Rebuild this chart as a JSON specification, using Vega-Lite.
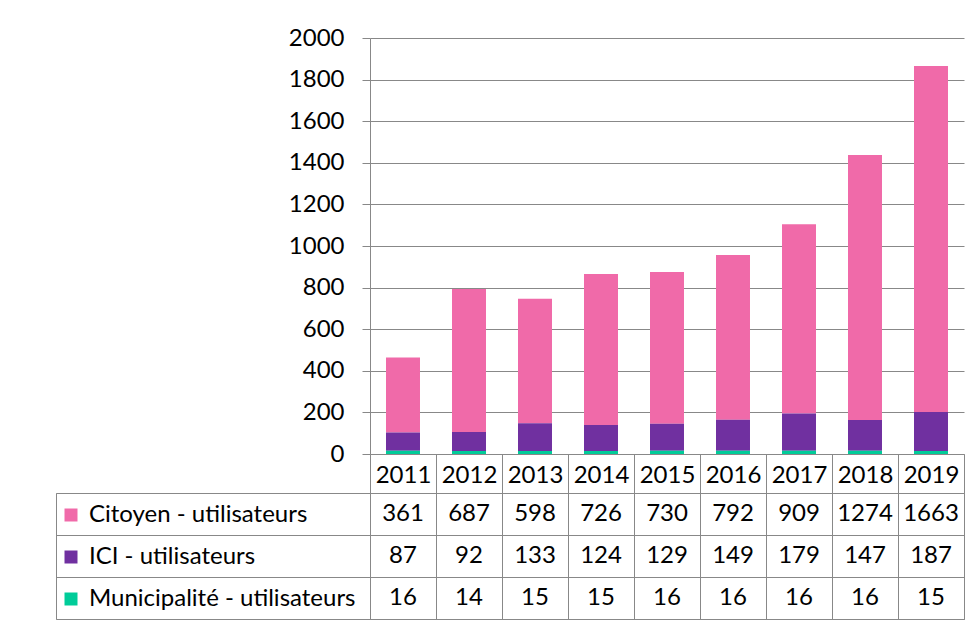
{
  "$schema": "https://vega.github.io/schema/vega-lite/v6.json",
  "padding": {"left": 55, "top": 26, "right": 5, "bottom": 5},
  "background": "white",
  "config": {"font": "Lato", "view": {"stroke": null}},
  "datasets": {
    "users": [
      {"year": "2011", "series": "Citoyen - utilisateurs", "value": 361},
      {"year": "2012", "series": "Citoyen - utilisateurs", "value": 687},
      {"year": "2013", "series": "Citoyen - utilisateurs", "value": 598},
      {"year": "2014", "series": "Citoyen - utilisateurs", "value": 726},
      {"year": "2015", "series": "Citoyen - utilisateurs", "value": 730},
      {"year": "2016", "series": "Citoyen - utilisateurs", "value": 792},
      {"year": "2017", "series": "Citoyen - utilisateurs", "value": 909},
      {"year": "2018", "series": "Citoyen - utilisateurs", "value": 1274},
      {"year": "2019", "series": "Citoyen - utilisateurs", "value": 1663},
      {"year": "2011", "series": "ICI - utilisateurs", "value": 87},
      {"year": "2012", "series": "ICI - utilisateurs", "value": 92},
      {"year": "2013", "series": "ICI - utilisateurs", "value": 133},
      {"year": "2014", "series": "ICI - utilisateurs", "value": 124},
      {"year": "2015", "series": "ICI - utilisateurs", "value": 129},
      {"year": "2016", "series": "ICI - utilisateurs", "value": 149},
      {"year": "2017", "series": "ICI - utilisateurs", "value": 179},
      {"year": "2018", "series": "ICI - utilisateurs", "value": 147},
      {"year": "2019", "series": "ICI - utilisateurs", "value": 187},
      {"year": "2011", "series": "Municipalité - utilisateurs", "value": 16},
      {"year": "2012", "series": "Municipalité - utilisateurs", "value": 14},
      {"year": "2013", "series": "Municipalité - utilisateurs", "value": 15},
      {"year": "2014", "series": "Municipalité - utilisateurs", "value": 15},
      {"year": "2015", "series": "Municipalité - utilisateurs", "value": 16},
      {"year": "2016", "series": "Municipalité - utilisateurs", "value": 16},
      {"year": "2017", "series": "Municipalité - utilisateurs", "value": 16},
      {"year": "2018", "series": "Municipalité - utilisateurs", "value": 16},
      {"year": "2019", "series": "Municipalité - utilisateurs", "value": 15}
    ]
  },
  "columns": 2,
  "spacing": {"row": 39, "column": 0},
  "bounds": "flush",
  "concat": [
    {
      "width": 314,
      "height": 416,
      "data": {"values": [{}]},
      "mark": {"type": "rect", "opacity": 0},
      "encoding": {}
    },
    {
      "width": 594,
      "height": 416,
      "data": {"name": "users"},
      "mark": {"type": "bar", "width": {"band": 0.515}},
      "encoding": {
        "x": {
          "field": "year",
          "type": "ordinal",
          "scale": {"paddingInner": 0, "paddingOuter": 0},
          "axis": {
            "title": null,
            "tickBand": "extent",
            "tickSize": 39,
            "tickColor": "#888888",
            "domainColor": "#888888",
            "labelAngle": 0,
            "labelFontSize": 24,
            "labelColor": "black",
            "labelPadding": -30,
            "grid": false
          }
        },
        "y": {
          "field": "value",
          "type": "quantitative",
          "stack": "zero",
          "scale": {"domain": [0, 2000], "nice": false},
          "axis": {
            "title": null,
            "format": "d",
            "values": [0, 200, 400, 600, 800, 1000, 1200, 1400, 1600, 1800, 2000],
            "grid": true,
            "gridColor": "#888888",
            "domainColor": "#888888",
            "tickColor": "#888888",
            "tickSize": 8,
            "labelFontSize": 24,
            "labelPadding": 18,
            "labelColor": "black"
          }
        },
        "color": {
          "field": "series",
          "type": "nominal",
          "scale": {
            "domain": ["Citoyen - utilisateurs", "ICI - utilisateurs", "Municipalité - utilisateurs"],
            "range": ["#F06AA9", "#7030A0", "#00CC99"]
          },
          "legend": {
            "title": null,
            "orient": "none",
            "legendX": 3,
            "legendY": 465,
            "symbolType": "square",
            "symbolSize": 169,
            "symbolStrokeWidth": 0,
            "labelFontSize": 24,
            "labelColor": "black",
            "labelOffset": 6,
            "labelLimit": 0,
            "rowPadding": 18
          }
        },
        "order": {"field": "series", "sort": "descending"}
      }
    },
    {
      "width": 314,
      "height": 126,
      "view": {"stroke": "#888888"},
      "data": {"name": "users"},
      "mark": {"type": "text", "text": ""},
      "encoding": {
        "y": {
          "field": "series",
          "type": "nominal",
          "sort": ["Citoyen - utilisateurs", "ICI - utilisateurs", "Municipalité - utilisateurs"],
          "scale": {"paddingInner": 0, "paddingOuter": 0},
          "axis": {"title": null, "labels": false, "ticks": false, "domain": false, "grid": true, "tickBand": "extent", "gridColor": "#888888"}
        }
      }
    },
    {
      "width": 594,
      "height": 126,
      "view": {"stroke": "#888888"},
      "data": {"name": "users"},
      "mark": {"type": "text", "fontSize": 24, "color": "black"},
      "encoding": {
        "x": {
          "field": "year",
          "type": "ordinal",
          "scale": {"paddingInner": 0, "paddingOuter": 0},
          "axis": {"title": null, "labels": false, "ticks": false, "domain": false, "grid": true, "tickBand": "extent", "gridColor": "#888888"}
        },
        "y": {
          "field": "series",
          "type": "nominal",
          "sort": ["Citoyen - utilisateurs", "ICI - utilisateurs", "Municipalité - utilisateurs"],
          "scale": {"paddingInner": 0, "paddingOuter": 0},
          "axis": {"title": null, "labels": false, "ticks": false, "domain": false, "grid": true, "tickBand": "extent", "gridColor": "#888888"}
        },
        "text": {"field": "value", "type": "quantitative"}
      }
    }
  ]
}
